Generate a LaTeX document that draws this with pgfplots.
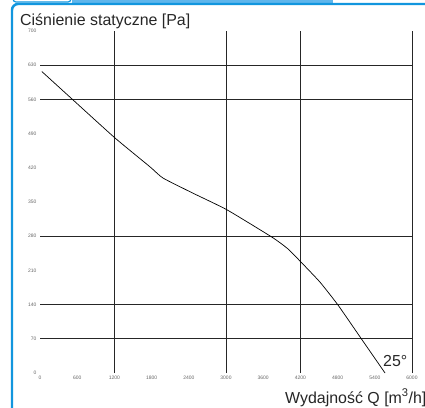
\documentclass[border=0pt]{standalone}
\usepackage{pgfplots}
\pgfplotsset{compat=1.18}
\usepackage{fontspec}
\setmainfont{Liberation Sans}
\definecolor{frameblue}{RGB}{18,150,222}
\definecolor{tabblue}{RGB}{95,182,236}
\begin{document}
\begin{tikzpicture}[x=1bp,y=1bp]
\useasboundingbox (0,0) rectangle (425,408);
\clip (0,0) rectangle (425,408);
% frame and tabs
\fill[tabblue] (72,404) rectangle (333,408);
\draw[frameblue, line width=1.2, fill=white, rounded corners=3] (13,412) -- (13,406) -- (71,406) -- (71,412);
\draw[frameblue, line width=2.5] (12,-5) -- (12,398) arc[start angle=180, end angle=90, radius=6] -- (440,404);
\begin{axis}[
    at={(40bp,35bp)}, anchor=south west,
    width=372bp, height=342bp, scale only axis,
    xmin=0, xmax=6000,
    ymin=0, ymax=700,
    axis line style={draw=none},
    xtick={0,600,...,6000},
    ytick={0,70,...,700},
    major tick length=0pt,
    scaled x ticks=false,
    ticklabel style={font=\fontsize{5}{6}\selectfont, text=black!60},
    /pgf/number format/assume math mode=true,
    /pgf/number format/1000 sep={},
    extra x ticks={1200,3000,4200,6000},
    extra x tick labels={},
    extra x tick style={grid=major},
    extra y ticks={70,140,280,560,630},
    extra y tick labels={},
    extra y tick style={grid=major},
    major grid style={black!85, line width=0.8bp},
    clip=false,
]
\addplot[black, line width=0.7bp, smooth, tension=0.3] coordinates {
    (30,617) (532,559) (1210,481) (1774,422) (1984,399) (2468,368)
    (3016,334) (3742,278) (3990,255) (4210,227) (4516,186)
    (4807,139) (5194,68) (5565,0)
};
\end{axis}
\node[anchor=base west, inner sep=0, font=\fontsize{16}{18}\selectfont, text=black!85] at (20,383) {Ciśnienie statyczne [Pa]};
\node[anchor=base west, inner sep=0, font=\fontsize{16}{18}\selectfont, text=black!85] at (285,5) {Wydajność Q [m\textsuperscript{3}/h]};
\node[anchor=base west, inner sep=0, font=\fontsize{16}{18}\selectfont, text=black!85] at (383,42) {25°};
\end{tikzpicture}
\end{document}
